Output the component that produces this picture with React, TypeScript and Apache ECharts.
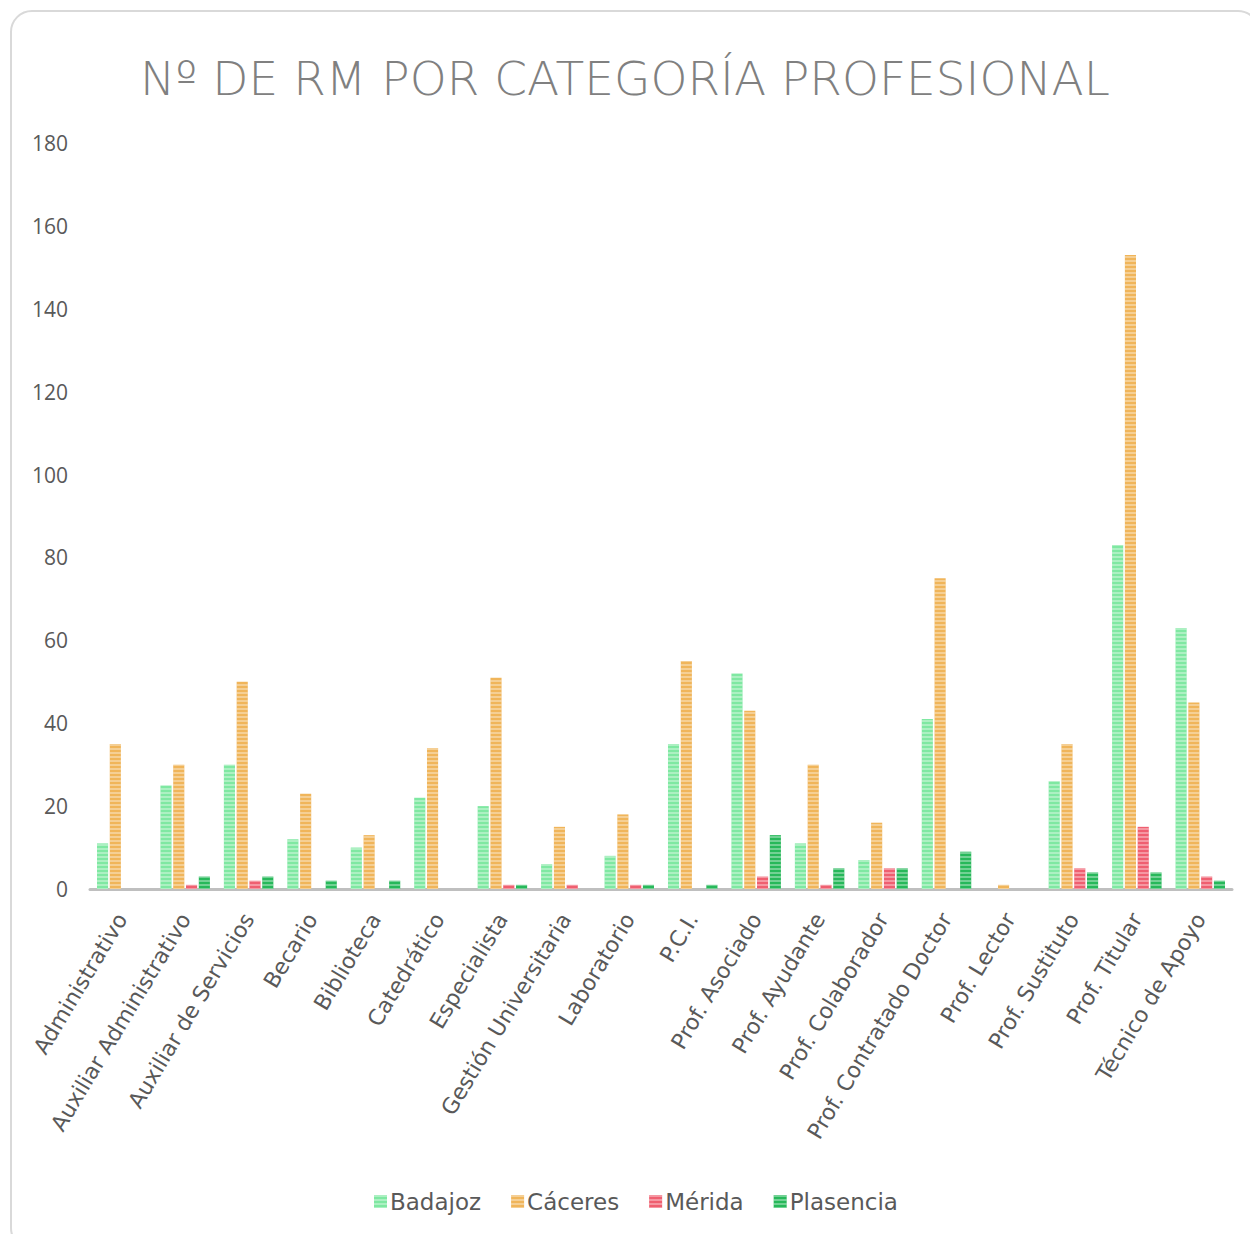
import React, { useEffect, useRef } from "react";
import * as echarts from "echarts";

const categories = [
  "Administrativo",
  "Auxiliar Administrativo",
  "Auxiliar de Servicios",
  "Becario",
  "Biblioteca",
  "Catedrático",
  "Especialista",
  "Gestión Universitaria",
  "Laboratorio",
  "P.C.I.",
  "Prof. Asociado",
  "Prof. Ayudante",
  "Prof. Colaborador",
  "Prof. Contratado Doctor",
  "Prof. Lector",
  "Prof. Sustituto",
  "Prof. Titular",
  "Técnico de Apoyo",
];

const badajoz = [11, 25, 30, 12, 10, 22, 20, 6, 8, 35, 52, 11, 7, 41, 0, 26, 83, 63];
const caceres = [35, 30, 50, 23, 13, 34, 51, 15, 18, 55, 43, 30, 16, 75, 1, 35, 153, 45];
const merida = [0, 1, 2, 0, 0, 0, 1, 1, 1, 0, 3, 1, 5, 0, 0, 5, 15, 3];
const plasencia = [0, 3, 3, 2, 2, 0, 1, 0, 1, 1, 13, 5, 5, 9, 0, 4, 4, 2];

const seriesNames = ["Badajoz", "Cáceres", "Mérida", "Plasencia"];
const seriesColors = ["#7fe8a2", "#f0b55a", "#ef5f70", "#27b85a"];

const yTicks = { min: 0, max: 180, interval: 20 };

export default function App() {
  const ref = useRef<HTMLDivElement>(null);

  useEffect(() => {
    if (!ref.current) return;
    const chart = echarts.init(ref.current, undefined, { renderer: "svg" });
    const data = [badajoz, caceres, merida, plasencia];
    chart.setOption({
      animation: false,
      backgroundColor: "transparent",
      title: {
        text: "Nº DE RM POR CATEGORÍA PROFESIONAL",
        left: "center",
        top: 50,
        textStyle: {
          fontFamily: "DejaVu Sans",
          fontSize: 47,
          fontWeight: 200,
          color: "#808080",
        },
      },
      legend: {
        bottom: 16,
        left: 369,
        itemWidth: 13,
        itemHeight: 13,
        itemGap: 30,
        icon: "rect",
        textStyle: {
          fontFamily: "DejaVu Sans",
          fontSize: 23,
          color: "#595959",
          padding: [0, 0, 0, -2],
        },
        data: seriesNames,
      },
      grid: {
        left: 90,
        right: 18,
        top: 143,
        bottom: 345,
        containLabel: false,
      },
      xAxis: {
        type: "category",
        data: categories,
        axisLine: { show: true, lineStyle: { color: "#bfbfbf", width: 3 } },
        axisTick: { show: false },
        axisLabel: {
          interval: 0,
          rotate: 59,
          fontFamily: "DejaVu Sans",
          fontSize: 22,
          color: "#595959",
          margin: 26,
        },
      },
      yAxis: {
        type: "value",
        min: yTicks.min,
        max: yTicks.max,
        interval: yTicks.interval,
        axisLine: { show: false },
        axisTick: { show: false },
        splitLine: { show: false },
        axisLabel: {
          fontFamily: "Open Sans",
          fontSize: 21,
          color: "#595959",
          margin: 22,
        },
      },
      series: seriesNames.map((name, i) => ({
        name,
        type: "bar",
        data: data[i],
        barGap: "15%",
        barCategoryGap: "22%",
        itemStyle: {
          color: seriesColors[i],
          borderWidth: 0,
          decal: {
            symbol: "rect",
            symbolSize: 1,
            dashArrayX: [[1, 0]],
            dashArrayY: [2, 1.5],
            rotation: 0,
            color: "rgba(255,255,255,0.35)",
          },
        },
      })),
    });
    return () => chart.dispose();
  }, []);

  return (
    <div
      style={{
        position: "fixed",
        left: 0,
        top: 0,
        width: 1250,
        height: 1234,
        background: "#ffffff",
        overflow: "hidden",
      }}
    >
      <div
        style={{
          position: "absolute",
          left: 10,
          top: 10,
          width: 1250,
          height: 1240,
          border: "2px solid #d9d9d9",
          borderRadius: 22,
          boxSizing: "border-box",
        }}
      />
      <div
        ref={ref}
        style={{ position: "absolute", left: 0, top: 0, width: 1250, height: 1234 }}
      />
    </div>
  );
}
